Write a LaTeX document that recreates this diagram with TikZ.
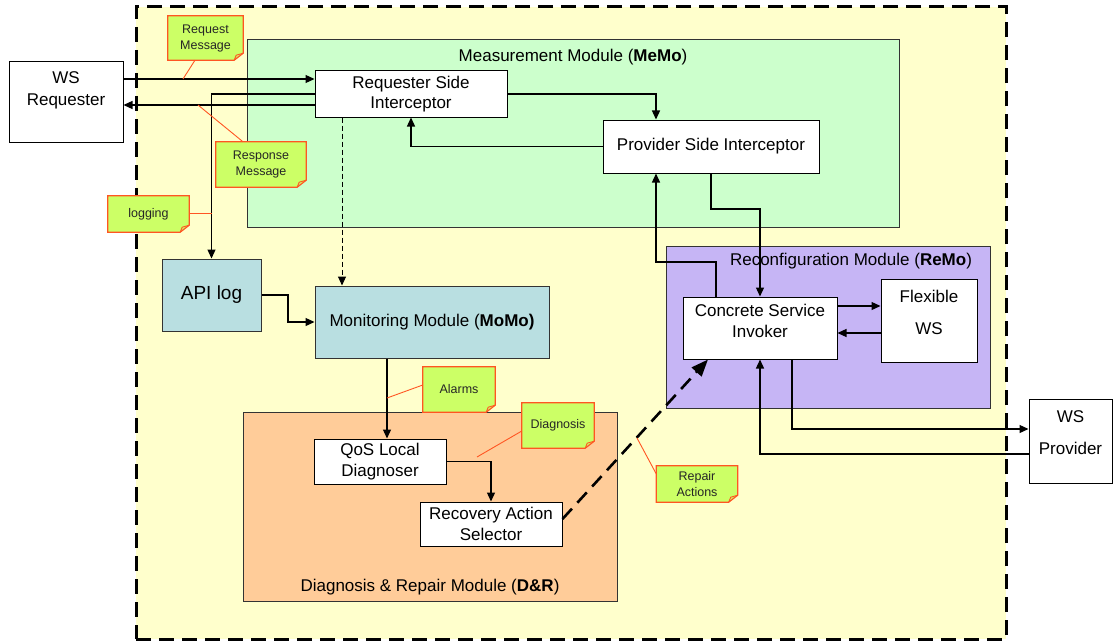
\documentclass[tikz,border=0pt]{standalone}
\usepackage{fontspec}
\setmainfont{Liberation Sans}
\usetikzlibrary{arrows.meta,calc}
\definecolor{sysyellow}{HTML}{FFFFCC}
\definecolor{memogreen}{HTML}{CCFFCC}
\definecolor{remopurple}{HTML}{C6B5F5}
\definecolor{momoblue}{HTML}{B9DFE1}
\definecolor{drpeach}{HTML}{FFCC99}
\definecolor{notegreen}{HTML}{CCFF66}
\definecolor{noteborder}{HTML}{FF5522}
\definecolor{framegray}{HTML}{333333}
\tikzset{
  boxtext/.style={font=\fontsize{17}{21}\selectfont, align=center},
  modbox/.style={draw=framegray, line width=0.9pt, inner sep=0pt},
  whitebox/.style={draw=black, line width=1pt, fill=white, inner sep=0pt, boxtext},
  arr/.style={line width=1.3pt, -{Triangle[length=9pt,width=8pt]}},
  dasharr/.style={line width=1pt, dash pattern=on 5pt off 3pt, -{Triangle[length=9pt,width=8pt]}},
  repairarr/.style={line width=2.6pt, dash pattern=on 14pt off 8pt, -{Triangle[length=17pt,width=13pt]}},
  callout/.style={draw=noteborder, line width=0.9pt},
  notebd/.style={draw=noteborder, line width=1.2pt, fill=notegreen},
  notetext/.style={font=\fontsize{12.5}{16}\selectfont, align=center, text=black!85},
  titletext/.style={font=\fontsize{17}{21}\selectfont}
}
\newcommand{\mynote}[6]{%
  \path node[minimum width=#4pt, minimum height=#5pt, inner sep=0pt] (#1) at (#2,#3) {};
  \draw[notebd] (#1.north west) -- (#1.north east) -- ($(#1.south east)+(0,-7)$) -- ($(#1.south east)+(-9,0)$) -- (#1.south west) -- cycle;
  \draw[noteborder, line width=0.9pt] ($(#1.south east)+(-9,0)$) -- ($(#1.south east)+(-7,-5)$) -- ($(#1.south east)+(0,-7)$);
  \node[notetext] at (#1.center) {#6};
}
\begin{document}
\begin{tikzpicture}[x=1pt,y=-1pt]
\useasboundingbox (0,0) rectangle (1120,642);
% outer system box
\node[draw=black, fill=sysyellow, line width=3pt, dash pattern=on 15pt off 8pt,
      minimum width=870pt, minimum height=632pt, inner sep=0pt] (sys) at (571,323) {};
% module boxes
\node[modbox, fill=memogreen, minimum width=652pt, minimum height=188pt] (memo) at (573,133) {};
\node[titletext] (memotitle) at (573,57) {Measurement Module (\textbf{MeMo})};
\node[modbox, fill=remopurple, minimum width=324pt, minimum height=162pt] (remo) at (828,327) {};
\node[titletext] (remotitle) at (851,261) {Reconfiguration Module (\textbf{ReMo})};
\node[modbox, fill=drpeach, minimum width=374pt, minimum height=189pt] (dr) at (430,506.5) {};
\node[titletext] (drtitle) at (430,587) {Diagnosis \& Repair Module (\textbf{D\&R})};
% outside boxes
\node[whitebox, minimum width=114pt, minimum height=80pt] (wsr) at (66,102) {};
\node[boxtext, font=\fontsize{17}{22}\selectfont] (wsrtext) at ($(wsr.center)+(0,-12)$) {WS\\Requester};
\node[whitebox, minimum width=83pt, minimum height=84pt] (wsp) at (1070.5,441) {};
\node[boxtext, font=\fontsize{17}{32}\selectfont] (wsptext) at ($(wsp.center)+(0,-8)$) {WS\\Provider};
% inner boxes
\node[whitebox, minimum width=192pt, minimum height=46pt, font=\fontsize{17}{20}\selectfont] (rsi) at (411,94) {Requester Side\\Interceptor};
\node[whitebox, minimum width=216pt, minimum height=53pt] (psi) at (711,146.5) {Provider Side Interceptor};
\node[whitebox, minimum width=154pt, minimum height=62pt] (csi) at (760,328) {};
\node[boxtext] (csitext) at ($(csi.center)+(0,-7.5)$) {Concrete Service\\Invoker};
\node[whitebox, minimum width=96pt, minimum height=83pt] (fws) at (929,320.5) {};
\node[boxtext, font=\fontsize{17}{32}\selectfont] (fwstext) at ($(fws.center)+(0,-8.5)$) {Flexible\\WS};
\node[whitebox, fill=momoblue, draw=framegray, minimum width=99pt, minimum height=72pt, font=\fontsize{19}{23}\selectfont] (api) at (211.5,295) {API log};
\node[whitebox, fill=momoblue, draw=framegray, minimum width=234pt, minimum height=72pt] (momo) at (432,322) {Monitoring Module (\textbf{MoMo)}};
\node[whitebox, minimum width=132pt, minimum height=45pt] (qos) at (380,461.5) {QoS Local\\Diagnoser};
\node[whitebox, minimum width=142pt, minimum height=44pt] (ras) at (491,524) {Recovery Action\\Selector};
% connectors
\draw[arr] (wsr.east |- 0,79) -- (rsi.west |- 0,79);
\draw[arr] (rsi.west |- 0,105) -- (wsr.east |- 0,105);
\draw[arr] (rsi.west |- 0,94) -| (api.north);
\draw[arr] (rsi.east) -| (psi.north -| 656,0);
\draw[arr] (psi.west) -| (rsi.south -| 411,0);
\draw[dasharr] (rsi.south -| 342,0) -- (momo.north -| 342,0);
\draw[arr] (psi.south) -- (711,209) -| (csi.north);
\draw[arr] (csi.north -| 716,0) -- (716,262) -| (psi.south -| 656,0);
\draw[arr] (csi.east |- 0,306) -- (fws.west |- 0,306);
\draw[arr] (fws.west |- 0,333) -- (csi.east |- 0,333);
\draw[arr] (csi.south -| 792,0) |- (wsp.west |- 0,429);
\draw[arr] (wsp.west |- 0,454) -| (csi.south);
\draw[arr] (api.east |- 0,295) -- (288,295) |- (momo.west);
\draw[arr] (momo.south -| 387,0) -- (qos.north -| 387,0);
\draw[arr] (qos.east) -| (ras.north);
\draw[repairarr] (ras.east |- 0,519) -- (csi.south -| 708,0);
% notes
\mynote{nreq}{205.5}{38}{75}{44}{Request\\Message}
\mynote{nresp}{261}{164.5}{90}{45}{Response\\Message}
\mynote{nlog}{148.5}{214}{81}{36}{logging}
\mynote{nalarm}{459}{389.5}{72}{45}{Alarms}
\mynote{ndiag}{558}{425.5}{72}{45}{Diagnosis}
\mynote{nrep}{697}{484}{81}{36}{Repair\\Actions}
% callout lines
\coordinate (creq) at (183,79);
\coordinate (cresp) at (198,105);
\coordinate (clog) at (212,213);
\coordinate (calarm) at (387,398);
\coordinate (cdiag) at (477,457);
\coordinate (crep) at (637,438);
\draw[callout] (nreq.south -| 195,0) -- (creq);
\draw[callout] (nresp.north -| 243,0) -- (cresp);
\draw[callout] (nlog.east |- 0,213) -- (clog);
\draw[callout] (nalarm.west |- 0,385) -- (calarm);
\draw[callout] (ndiag.west |- 0,431) -- (cdiag);
\draw[callout] (nrep.west |- 0,474) -- (crep);
\end{tikzpicture}
\end{document}
